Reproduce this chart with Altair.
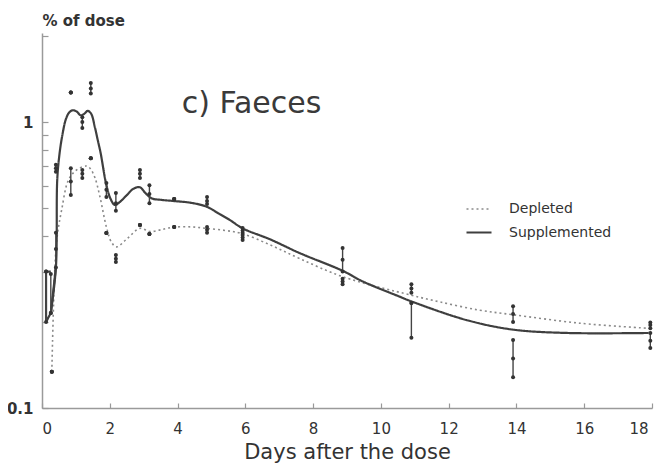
import altair as alt
import pandas as pd

# ---- data ----
series_names = ["Depleted", "Supplemented"]

# smoothed curves (day, % of dose), drawn in the order given
dep_curve_days = [0.29, 0.38, 0.45, 0.58, 0.78, 1.02, 1.32, 1.42, 1.56, 1.71, 1.9, 2.05, 2.2, 2.5,
                  2.89, 3.19, 3.5, 3.87, 4.4, 4.86, 5.4, 5.89, 6.73, 7.61, 8.87, 10.9, 11.74,
                  12.9, 13.9, 15.87, 17.9]
dep_curve_vals = [0.134, 0.31, 0.40, 0.493, 0.627, 0.68, 0.702, 0.689, 0.64, 0.548, 0.43, 0.38,
                  0.366, 0.39, 0.425, 0.414, 0.42, 0.429, 0.43, 0.425, 0.418, 0.408, 0.372, 0.333,
                  0.288, 0.248, 0.235, 0.22, 0.212, 0.198, 0.19]

# early zig-zag of the supplemented curve (straight segments)
sup_early_days = [0.26, 0.12, 0.12, 0.26, 0.41]
sup_early_vals = [0.3, 0.3, 0.2, 0.215, 0.31]
# smooth part of the supplemented curve
sup_curve_days = [0.26, 0.41, 0.45, 0.52, 0.6, 0.7, 0.8, 0.9, 1.02, 1.14, 1.25,
                  1.35, 1.45, 1.56, 1.65, 1.73, 1.89, 2.02, 2.15, 2.3, 2.5, 2.7, 2.89, 3.05, 3.24,
                  3.5, 3.87, 4.4, 4.86, 5.2, 5.55, 5.92, 6.73, 7.61, 8.87, 9.47, 10.56, 10.9,
                  12.53, 13.9, 15.5, 17.9]
sup_curve_vals = [0.215, 0.31, 0.63, 0.78, 0.9, 1.02, 1.08, 1.1, 1.09, 1.057, 1.07,
                  1.095, 1.07, 0.96, 0.86, 0.78, 0.61, 0.54, 0.513, 0.526, 0.555, 0.585, 0.592,
                  0.565, 0.541, 0.535, 0.53, 0.522, 0.506, 0.48, 0.454, 0.425, 0.389, 0.348,
                  0.302, 0.277, 0.245, 0.236, 0.203, 0.188, 0.183, 0.183]

# observations: day, mean, low, high
dep_obs_days = [0.29, 0.41, 0.85, 1.19, 1.44, 1.9, 2.18, 2.89, 3.17, 3.9, 4.87, 5.92, 8.87, 10.9, 13.9, 17.95]
dep_obs_mean = [0.134, 0.36, 0.62, 0.66, 0.748, 0.409, 0.333, 0.437, 0.406, 0.43, 0.42, 0.395, 0.277, 0.262, 0.213, 0.195]
dep_obs_lo = [0.134, 0.31, 0.556, 0.637, 0.748, 0.409, 0.324, 0.437, 0.406, 0.43, 0.41, 0.387, 0.271, 0.253, 0.2, 0.19]
dep_obs_hi = [0.134, 0.41, 0.69, 0.68, 0.748, 0.409, 0.343, 0.437, 0.406, 0.43, 0.43, 0.403, 0.283, 0.271, 0.227, 0.199]

sup_obs_days = [0.12, 0.26, 0.41, 0.85, 1.19, 1.44, 1.9, 2.18, 2.89, 3.17, 3.9, 4.87, 5.92, 8.87, 10.9, 13.9, 17.95]
sup_obs_mean = [0.3, 0.215, 0.69, 1.27, 1.0, 1.31, 0.58, 0.52, 0.66, 0.56, 0.538, 0.53, 0.418, 0.33, 0.233, 0.149, 0.172]
sup_obs_lo = [0.2, 0.215, 0.67, 1.27, 0.953, 1.26, 0.547, 0.49, 0.637, 0.52, 0.538, 0.517, 0.41, 0.3, 0.176, 0.128, 0.162]
sup_obs_hi = [0.3, 0.294, 0.71, 1.27, 1.04, 1.37, 0.612, 0.565, 0.68, 0.602, 0.538, 0.547, 0.426, 0.363, 0.233, 0.173, 0.183]

x_ticks = [0, 2, 4, 6, 8, 10, 12, 14, 16, 18]
y_labels = [0.1, 1]
y_minor = [0.1, 0.2, 0.3, 0.4, 0.5, 0.6, 0.7, 0.8, 0.9, 1, 2]
panel_title = "c) Faeces"
x_title = "Days after the dose"
y_title = "% of dose"

# ---- tables ----
curves = pd.concat([
    pd.DataFrame({"day": dep_curve_days, "value": dep_curve_vals, "series": series_names[0],
                  "idx": range(len(dep_curve_days))}),
    pd.DataFrame({"day": sup_curve_days, "value": sup_curve_vals, "series": series_names[1],
                  "idx": range(len(sup_curve_days))}),
])
early = pd.DataFrame({"day": sup_early_days, "value": sup_early_vals, "series": series_names[1],
                      "idx": range(len(sup_early_days))})
obs = pd.concat([
    pd.DataFrame({"day": dep_obs_days, "mean": dep_obs_mean, "lo": dep_obs_lo, "hi": dep_obs_hi,
                  "series": series_names[0]}),
    pd.DataFrame({"day": sup_obs_days, "mean": sup_obs_mean, "lo": sup_obs_lo, "hi": sup_obs_hi,
                  "series": series_names[1]}),
])
pts = obs.melt(id_vars=["day", "series"], value_vars=["lo", "mean", "hi"], value_name="v")

W, H = 610, 375
x_scale = alt.Scale(domain=[0, 18], nice=False, zero=False)
y_scale = alt.Scale(type="log", domain=[0.1, 2.05], nice=False)
color_enc = alt.Color("series:N", scale=alt.Scale(domain=series_names, range=["#8a8a8a", "#3f3f3f"]),
                      legend=alt.Legend(title=None))
dash_enc = alt.StrokeDash("series:N", scale=alt.Scale(domain=series_names, range=[[2, 3], [1, 0]]),
                          legend=alt.Legend(title=None))
width_enc = alt.StrokeWidth("series:N", scale=alt.Scale(domain=series_names, range=[1.6, 2.2]),
                            legend=alt.Legend(title=None))

curve = alt.Chart(curves).mark_line(interpolate="catmull-rom").encode(
    x=alt.X("day:Q", scale=x_scale, axis=alt.Axis(
        values=x_ticks, ticks=False, tickSize=0, labelPadding=13, grid=False, format="d",
        title=x_title, titleFontSize=21, titleFontWeight="normal", titlePadding=5,
        labelFontSize=15,
        labelOffset={"condition": {"test": "datum.value == 18", "value": -4}, "value": 0})),
    y=alt.Y("value:Q", scale=y_scale, axis=alt.Axis(
        values=y_labels, ticks=False, tickSize=0, labelPadding=9, grid=False, format="~g",
        labelFontWeight="bold", labelFontSize=15,
        title=y_title, titleAngle=0, titleAlign="left", titleBaseline="alphabetic",
        titleX=0, titleY=-8, titleFontSize=15, titleFontWeight="bold")),
    color=color_enc, strokeDash=dash_enc, strokeWidth=width_enc,
    order=alt.Order("idx:Q"),
)

early_line = alt.Chart(early).mark_line(interpolate="linear").encode(
    x=alt.X("day:Q", scale=x_scale, axis=None),
    y=alt.Y("value:Q", scale=y_scale, axis=None),
    color=color_enc, strokeDash=dash_enc, strokeWidth=width_enc,
    order=alt.Order("idx:Q"),
)

bars = alt.Chart(obs).mark_rule(color="#444444", strokeWidth=1.4).encode(
    x=alt.X("day:Q", scale=x_scale, axis=alt.Axis(
        orient="top", offset=-H, values=x_ticks, labels=False, domain=False, tickSize=5,
        tickColor="#999999", tickWidth=1.2, title=None, grid=False)),
    y=alt.Y("lo:Q", scale=y_scale, axis=alt.Axis(
        orient="right", offset=-W, values=y_minor, labels=False, domain=False, tickSize=6,
        tickColor="#999999", tickWidth=1.2, title=None, grid=False)),
    y2="hi:Q",
)

dots = alt.Chart(pts).mark_point(filled=True, size=16, color="#333333", opacity=1).encode(
    x=alt.X("day:Q", scale=x_scale, axis=None),
    y=alt.Y("v:Q", scale=y_scale, axis=None),
)

label = alt.Chart(pd.DataFrame({"t": [panel_title]})).mark_text(
    font="DejaVu Sans", fontSize=30, color="#3a3a3a", align="center", baseline="alphabetic"
).encode(text="t:N", x=alt.value(209.5), y=alt.value(80))

chart = alt.layer(curve, early_line, bars, dots, label).resolve_axis(
    x="independent", y="independent"
).properties(
    width=W, height=H,
    autosize=alt.AutoSizeParams(type="none"),
    padding={"left": 34, "top": 25, "right": 5, "bottom": 56},
).configure_view(stroke=None).configure_axis(
    domainColor="#9a9a9a", domainWidth=1.5, labelFont="DejaVu Sans", labelColor="#333333",
    titleFont="DejaVu Sans", titleColor="#333333",
).configure_legend(
    orient="none", legendX=423, legendY=162.5, padding=0, rowPadding=2,
    symbolType="stroke", symbolSize=625, labelOffset=16,
    labelFont="DejaVu Sans", labelFontSize=14, labelColor="#333333",
)

chart.save("out.html", embed_options={"renderer": "svg", "actions": False})
